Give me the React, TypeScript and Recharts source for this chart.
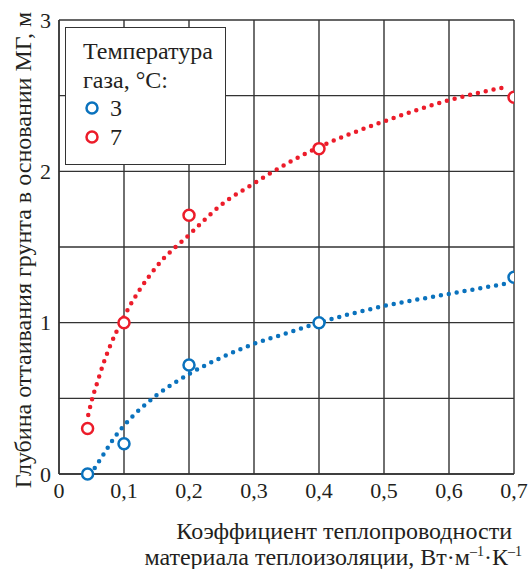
import {
  CartesianGrid,
  ComposedChart,
  Label,
  Line,
  Scatter,
  XAxis,
  YAxis,
} from "recharts";

const xTicks = [0, 0.1, 0.2, 0.3, 0.4, 0.5, 0.6, 0.7];
const yTicks = [0, 0.5, 1, 1.5, 2, 2.5, 3];

// measured points
const points3 = [
  { x: 0.044, y: 0 },
  { x: 0.1, y: 0.2 },
  { x: 0.2, y: 0.72 },
  { x: 0.4, y: 1.0 },
  { x: 0.7, y: 1.3 },
];
const points7 = [
  { x: 0.044, y: 0.3 },
  { x: 0.1, y: 1.0 },
  { x: 0.2, y: 1.71 },
  { x: 0.4, y: 2.15 },
  { x: 0.7, y: 2.49 },
];

// dotted trend curves
const trend3 = [
  { x: 0.055, y: 0.04 },
  { x: 0.07, y: 0.14 },
  { x: 0.085, y: 0.24 },
  { x: 0.1, y: 0.32 },
  { x: 0.15, y: 0.52 },
  { x: 0.2, y: 0.66 },
  { x: 0.25, y: 0.77 },
  { x: 0.3, y: 0.86 },
  { x: 0.35, y: 0.93 },
  { x: 0.4, y: 1.0 },
  { x: 0.5, y: 1.11 },
  { x: 0.6, y: 1.19 },
  { x: 0.69, y: 1.26 },
];
const trend7 = [
  { x: 0.045, y: 0.39 },
  { x: 0.05, y: 0.48 },
  { x: 0.06, y: 0.62 },
  { x: 0.07, y: 0.75 },
  { x: 0.08, y: 0.86 },
  { x: 0.1, y: 1.04 },
  { x: 0.15, y: 1.37 },
  { x: 0.2, y: 1.58 },
  { x: 0.25, y: 1.78 },
  { x: 0.3, y: 1.92 },
  { x: 0.35, y: 2.05 },
  { x: 0.4, y: 2.16 },
  { x: 0.5, y: 2.33 },
  { x: 0.6, y: 2.47 },
  { x: 0.69, y: 2.56 },
];

const legendItems = [
  { color: "#0a72bd", label: "3" },
  { color: "#ec1c2a", label: "7" },
];

const BLUE = "#0a72bd";
const RED = "#ec1c2a";
const GRID = "#333";
const TEXT = "#231f20";
const FONT = "Liberation Serif";

const Ring = (color: string) => (props: any) => (
  <circle
    cx={props.cx}
    cy={props.cy}
    r={5.5}
    fill="#fff"
    stroke={color}
    strokeWidth={2.5}
  />
);

const LegendBox = () => (
  <div
    style={{
      position: "absolute",
      left: 65,
      top: 27,
      width: 161,
      height: 138,
      border: "1.5px solid #333",
      background: "#fff",
      fontFamily: FONT,
      fontSize: 24,
      color: TEXT,
      lineHeight: "28.5px",
      padding: "9px 0 0 17px",
      boxSizing: "border-box",
    }}
  >
    <div>Температура</div>
    <div>газа, °C:</div>
    {legendItems.map((it) => (
      <div key={it.label} style={{ display: "flex", alignItems: "center", height: 28.5 }}>
        <svg width={22} height={16}>
          <circle cx={9} cy={8} r={5.5} fill="#fff" stroke={it.color} strokeWidth={2.5} />
        </svg>
        <span style={{ marginLeft: 5 }}>{it.label}</span>
      </div>
    ))}
  </div>
);

export default function App() {
  return (
    <div style={{ position: "absolute", left: 0, top: 0, width: 528, height: 569, background: "#fff" }}>
      <ComposedChart
        width={528}
        height={569}
        margin={{ top: 20, right: 14, bottom: 65, left: 29 }}
      >
        <CartesianGrid stroke={GRID} strokeWidth={1.4} />
        <XAxis
          type="number"
          dataKey="x"
          domain={[0, 0.7]}
          ticks={xTicks}
          height={30}
          axisLine={{ stroke: GRID, strokeWidth: 1.4 }}
          tickLine={false}
          tick={{ fill: TEXT, fontSize: 22, fontFamily: FONT }}
          tickFormatter={(v: number) => (v === 0 ? "0" : v.toFixed(1).replace(".", ","))}
          allowDataOverflow
        >
          <Label
            content={() => (
              <text fontFamily={FONT} fontSize={24} fill={TEXT} textAnchor="end">
                <tspan x={512} y={539}>Коэффициент теплопроводности</tspan>
                <tspan x={522} y={565}>
                  материала теплоизоляции, Вт·м
                  <tspan dy={-9} fontSize={14}>–1</tspan>
                  <tspan dy={9}>·К</tspan>
                  <tspan dy={-9} fontSize={14}>–1</tspan>
                </tspan>
              </text>
            )}
          />
        </XAxis>
        <YAxis
          type="number"
          domain={[0, 3]}
          ticks={yTicks}
          width={30}
          axisLine={{ stroke: GRID, strokeWidth: 1.4 }}
          tickLine={false}
          tick={{ fill: TEXT, fontSize: 22, fontFamily: FONT }}
          tickFormatter={(v: number) => (Number.isInteger(v) ? String(v) : "")}
        >
          <Label
            content={() => (
              <text
                x={31}
                y={250}
                transform="rotate(-90 31 250)"
                textAnchor="middle"
                fontFamily={FONT}
                fontSize={24}
                fill={TEXT}
              >
                Глубина оттаивания грунта в основании МГ, м
              </text>
            )}
          />
        </YAxis>
        <Line
          data={trend3}
          dataKey="y"
          type="monotone"
          stroke={BLUE}
          strokeWidth={4.5}
          strokeDasharray="0 8"
          strokeLinecap="round"
          dot={false}
          activeDot={false}
          isAnimationActive={false}
        />
        <Line
          data={trend7}
          dataKey="y"
          type="monotone"
          stroke={RED}
          strokeWidth={4.5}
          strokeDasharray="0 8"
          strokeLinecap="round"
          dot={false}
          activeDot={false}
          isAnimationActive={false}
        />
        <Scatter data={points3} dataKey="y" shape={Ring(BLUE)} isAnimationActive={false} />
        <Scatter data={points7} dataKey="y" shape={Ring(RED)} isAnimationActive={false} />
      </ComposedChart>
      <LegendBox />
    </div>
  );
}
